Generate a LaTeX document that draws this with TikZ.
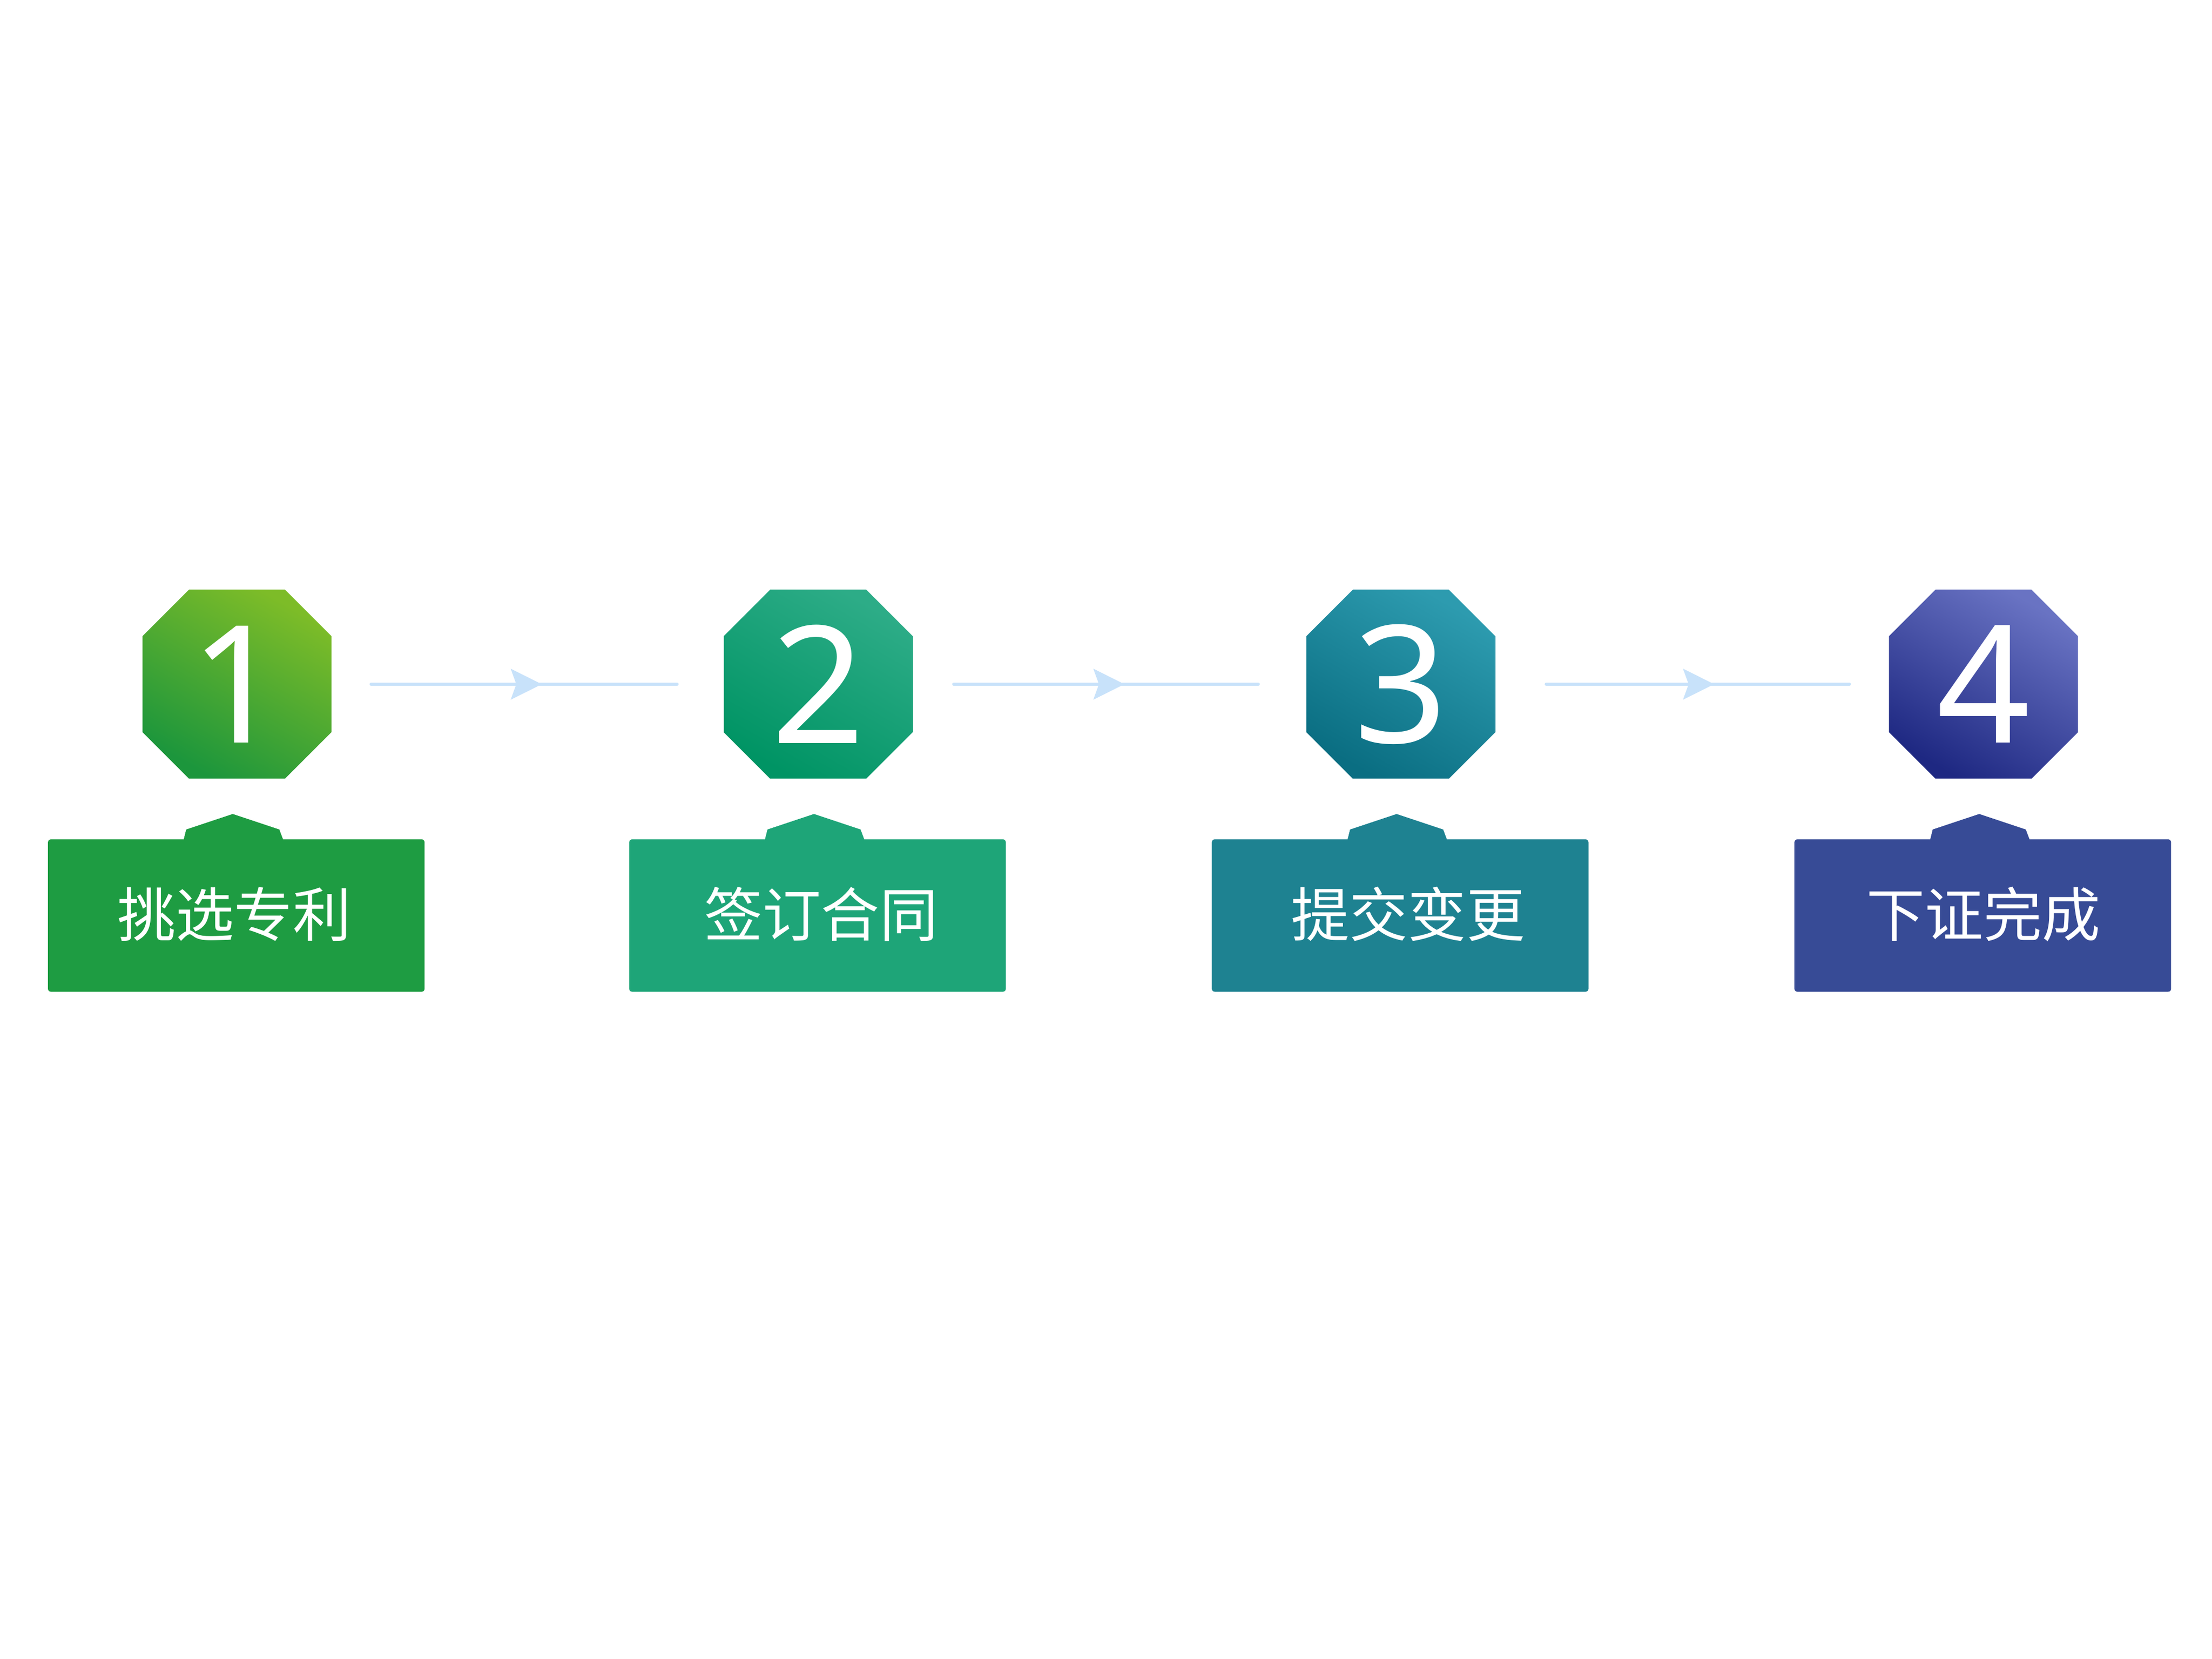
\documentclass[tikz,border=0pt]{standalone}
\usepackage{fontspec}
\newfontfamily\cjk{Noto Sans CJK SC}
\newfontfamily\numf{Noto Sans}
\usetikzlibrary{arrows.meta}
\definecolor{ga}{RGB}{125,188,40}\definecolor{gb}{RGB}{28,150,60}\definecolor{gbox}{RGB}{30,156,66}
\definecolor{ta}{RGB}{45,172,135}\definecolor{tb}{RGB}{0,148,100}\definecolor{tbox}{RGB}{30,165,120}
\definecolor{ca}{RGB}{45,155,175}\definecolor{cb}{RGB}{10,110,130}\definecolor{cbox}{RGB}{30,130,145}
\definecolor{ba}{RGB}{105,115,195}\definecolor{bb}{RGB}{30,40,130}\definecolor{bbox}{RGB}{55,75,150}
\definecolor{arr}{RGB}{200,226,250}
\tikzset{num/.style={text=white,font=\numf\fontsize{330}{330}\selectfont},
lab/.style={text=white,font=\cjk\fontsize{118}{118}\selectfont},
conn/.style={draw=arr,line width=6pt,line cap=round}}
\newcommand\stage[6]{%
 \shade[top color=#3,bottom color=#4,shading angle=-30] (#1-67+33,418)--(#1+67-33,418)--(#1+67,418+33)--(#1+67,552-33)--(#1+67-33,552)--(#1-67+33,552)--(#1-67,552-33)--(#1-67,418+33)--cycle;
 \node[num] (n#6) at (#1,485) {#2};
 \fill[#5,rounded corners=6pt] (#1-134,595) rectangle (#1+133,703);
 \fill[#5] (#1-38,596)--(#1-36,588)--(#1-3,577)--(#1+30,588)--(#1+33,596)--cycle;
 \node[lab] (t#6) at (#1,648) {};
}
\begin{document}
\begin{tikzpicture}[x=0.1cm,y=-0.1cm]
\useasboundingbox (0,0) rectangle (1568,1176);
\fill[white] (0,0) rectangle (1568,1176);
\stage{168}{1}{ga}{gb}{gbox}{1}
\stage{580}{2}{ta}{tb}{tbox}{2}
\stage{993}{3}{ca}{cb}{cbox}{3}
\stage{1406}{4}{ba}{bb}{bbox}{4}
\node[lab] at (166,648) {挑选专利};
\node[lab] at (582,648) {签订合同};
\node[lab] at (998,648) {提交变更};
\node[lab] at (1406,648) {下证完成};
\coordinate (a1) at (263,485);\coordinate (b1) at (480,485);
\coordinate (a2) at (676,485);\coordinate (b2) at (892,485);
\coordinate (a3) at (1096,485);\coordinate (b3) at (1311,485);
\foreach \i/\m in {1/372,2/785,3/1203}{
 \draw[conn] (a\i)--(b\i);
 \fill[arr] (\m-10,474)--(\m+12,485)--(\m-10,496)--(\m-6,485)--cycle;
}
\end{tikzpicture}
\end{document}
